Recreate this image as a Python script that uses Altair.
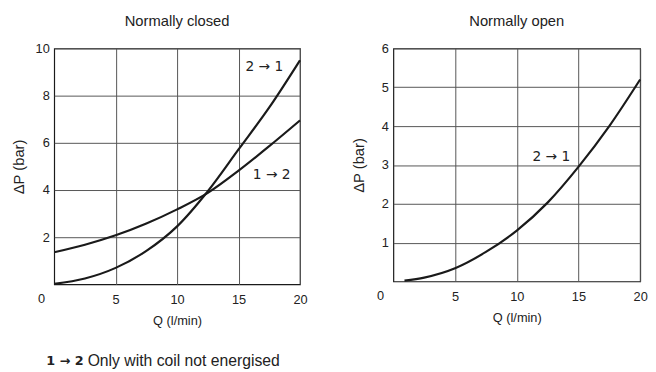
import altair as alt
import pandas as pd

FONT = "Liberation Sans"
ARROW_FONT = "DejaVu Sans"

# ---- data: normally closed ----
q_nc = [0, 2.5, 5, 7.5, 10, 12.5, 15, 17.5, 20]
dp_nc_12 = [1.36, 1.68, 2.08, 2.58, 3.18, 3.88, 4.82, 5.86, 6.95]
dp_nc_21 = [0.02, 0.25, 0.70, 1.42, 2.46, 3.95, 5.72, 7.50, 9.50]

# ---- data: normally open ----
q_no = [0.9, 2.5, 5, 7.5, 10, 12.5, 15, 17.5, 20]
dp_no_21 = [0.02, 0.10, 0.34, 0.76, 1.31, 2.03, 2.95, 4.00, 5.20]

# labels
nc_label_q = [17.1, 17.7]
nc_label_dp = [9.2, 4.65]
nc_label_txt = ["2 \u2192 1", "1 \u2192 2"]
no_label_q = [12.8]
no_label_dp = [3.2]
no_label_txt = ["2 \u2192 1"]

x_ticks = [5, 10, 15, 20]
y_ticks_nc = [2, 4, 6, 8, 10]
y_ticks_no = [1, 2, 3, 4, 5, 6]

foot_bold = "1 \u2192 2"
foot_text = "Only with coil not energised"

df_nc = pd.DataFrame({
    "Q": q_nc * 2,
    "dP": dp_nc_12 + dp_nc_21,
    "s": ["1-2"] * len(q_nc) + ["2-1"] * len(q_nc),
})
df_no = pd.DataFrame({"Q": q_no, "dP": dp_no_21, "s": ["2-1"] * len(q_no)})

GRID = "#555555"
TXT = "#222222"


def x_enc():
    return alt.X("Q:Q", scale=alt.Scale(domain=[0, 20], nice=False),
                 axis=alt.Axis(values=x_ticks, title="Q (l/min)", grid=True,
                               gridColor=GRID, gridWidth=1, ticks=False, domain=False,
                               labelFlush=False, labelPadding=9, titlePadding=9))


def y_enc(dom, ticks, tpad):
    return alt.Y("dP:Q", scale=alt.Scale(domain=dom, nice=False),
                 axis=alt.Axis(values=ticks, title="\u0394P (bar)", grid=True,
                               gridColor=GRID, gridWidth=1, ticks=False, domain=False,
                               labelFlush=False, labelPadding=5, titlePadding=tpad,
                               titleFontSize=15))


def zero_label():
    return alt.Chart(pd.DataFrame({"Q": [0], "dP": [0], "t": ["0"]})).mark_text(
        dx=-13, dy=15, fontSize=13, font=FONT, color=TXT
    ).encode(x="Q:Q", y="dP:Q", text="t:N")


# ---- left panel ----
nc_lines = alt.Chart(df_nc).mark_line(
    color="#1a1a1a", strokeWidth=2.2, interpolate="monotone"
).encode(x=x_enc(), y=y_enc([0, 10], y_ticks_nc, 9), detail="s:N")

nc_text = alt.Chart(pd.DataFrame({"Q": nc_label_q, "dP": nc_label_dp, "t": nc_label_txt})).mark_text(
    fontSize=14, font=ARROW_FONT, color=TXT
).encode(x="Q:Q", y="dP:Q", text="t:N")

foot1 = alt.Chart(pd.DataFrame({"t": [foot_bold]})).mark_text(
    fontSize=13, font=ARROW_FONT, fontWeight="bold", align="right", color=TXT
).encode(text="t:N", x=alt.value(30), y=alt.value(318))
foot2 = alt.Chart(pd.DataFrame({"t": [foot_text]})).mark_text(
    fontSize=16, font=FONT, align="left", color=TXT
).encode(text="t:N", x=alt.value(34), y=alt.value(318))

left = alt.layer(nc_lines, nc_text, zero_label(), foot1, foot2).properties(
    width=250, height=240,
    title=alt.TitleParams("Normally closed", fontSize=15, fontWeight="normal", font=FONT,
                          color=TXT, offset=14)
)

# ---- right panel ----
no_lines = alt.Chart(df_no).mark_line(
    color="#1a1a1a", strokeWidth=2.2, interpolate="monotone"
).encode(x=x_enc(), y=y_enc([0, 6], y_ticks_no, 15), detail="s:N")

no_text = alt.Chart(pd.DataFrame({"Q": no_label_q, "dP": no_label_dp, "t": no_label_txt})).mark_text(
    fontSize=14, font=ARROW_FONT, color=TXT
).encode(x="Q:Q", y="dP:Q", text="t:N")

right = alt.layer(no_lines, no_text, zero_label()).properties(
    width=251, height=237,
    title=alt.TitleParams("Normally open", fontSize=15, fontWeight="normal", font=FONT,
                          color=TXT, offset=14)
)

chart = alt.hconcat(left, right, spacing=44).properties(
    padding={"left": 2, "top": 2, "right": 0, "bottom": 2}
).configure_view(
    stroke="#1a1a1a", strokeWidth=1.2
).configure_axis(
    labelFont=FONT, titleFont=FONT, labelFontSize=13, titleFontSize=13,
    labelColor=TXT, titleColor=TXT, titleFontWeight="normal"
)

chart.save("out.html", embed_options={"renderer": "svg", "actions": False})
